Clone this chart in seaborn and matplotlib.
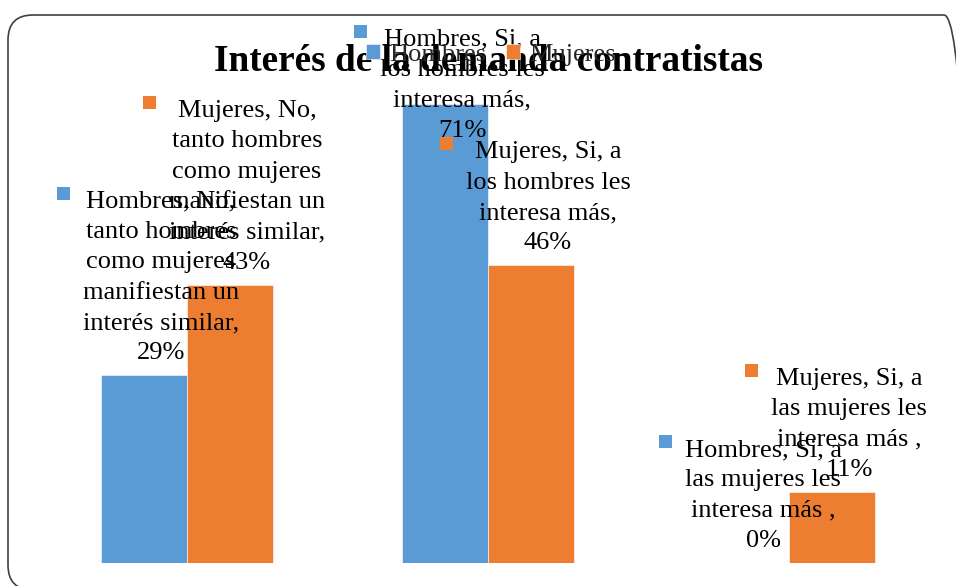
import textwrap
import numpy as np
import pandas as pd
import matplotlib.pyplot as plt
import seaborn as sns
from matplotlib.offsetbox import AnnotationBbox, DrawingArea, TextArea, HPacker
from matplotlib.patches import Rectangle, FancyBboxPatch
from matplotlib.transforms import IdentityTransform

# datos
categorias = ['No, tanto hombres como mujeres manifiestan un interés similar',
              'Si, a los hombres les interesa más',
              'Si, a las mujeres les interesa más ']
series = ['Hombres', 'Mujeres']
hombres = [29, 71, 0]
mujeres = [43, 46, 11]
colores = ['#5B9BD5', '#ED7D31']
titulo = 'Interés de la demanda contratistas'

df = pd.DataFrame({
    'Categoria': categorias * 2,
    'Serie': [series[0]] * 3 + [series[1]] * 3,
    'Valor': hombres + mujeres,
})

sns.set_theme(style='white')
plt.rcParams['font.family'] = ['Liberation Serif', 'DejaVu Serif']

px = 72 / 100  # pixels -> points

fig = plt.figure(figsize=(9.56, 5.86), dpi=100)
ax = fig.add_axes([0.0382, 0.0392, 0.9446, 0.8833])
sns.barplot(data=df, x='Categoria', y='Valor', hue='Serie', palette=colores,
            width=0.571, gap=0, saturation=1, edgecolor='white', linewidth=0.4,
            errorbar=None, ax=ax)
ax.set_xlim(-0.5, 2.5)
ax.set_ylim(0, 80)
ax.set_axis_off()

handles, labels = ax.get_legend_handles_labels()
ax.get_legend().remove()

fig.text(489 / 956, 1 - 71 / 586, titulo, ha='center', va='baseline',
         fontsize=26.8, fontweight='bold', color='black')

fig.legend(handles, labels, loc='center', bbox_to_anchor=(491 / 956, 1 - 55 / 586),
           ncol=2, frameon=False, fontsize=19, handlelength=0.53, handleheight=0.53,
           handletextpad=0.34, columnspacing=0.76, borderpad=0, borderaxespad=0)

# etiquetas de datos (estilo Excel: serie, categoria, valor)
offset_y = [[11, -38, 11], [11, 11, 11]]
valores = [hombres, mujeres]
for i, cont in enumerate(ax.containers):
    for j, bar in enumerate(cont):
        xc = bar.get_x() + bar.get_width() / 2
        h = bar.get_height()
        txt = textwrap.fill(f"{series[i]}, {categorias[j]}, {valores[i][j]}%", 16)
        da = DrawingArea(13 * px, 13 * px, 0, 0)
        da.add_artist(Rectangle((0, 4 * px), 13 * px, 13 * px, fc=colores[i], ec='none'))
        ta = TextArea(txt, textprops=dict(fontsize=19, color='black',
                                          multialignment='center', linespacing=1.49))
        box = HPacker(children=[da, ta], align='top', pad=0, sep=13 * px)
        ab = AnnotationBbox(box, (xc, h), xybox=(4 * px, offset_y[i][j] * px),
                            xycoords='data', boxcoords='offset points',
                            box_alignment=(0.5, 0), frameon=False, pad=0,
                            annotation_clip=False)
        ax.add_artist(ab)

borde = FancyBboxPatch((8, -4), 961, 575, boxstyle='round,pad=0,rounding_size=25',
                       transform=IdentityTransform(), fill=False, ec='#404040', lw=1.2)
fig.add_artist(borde)

fig.savefig('out.png', dpi=100)
